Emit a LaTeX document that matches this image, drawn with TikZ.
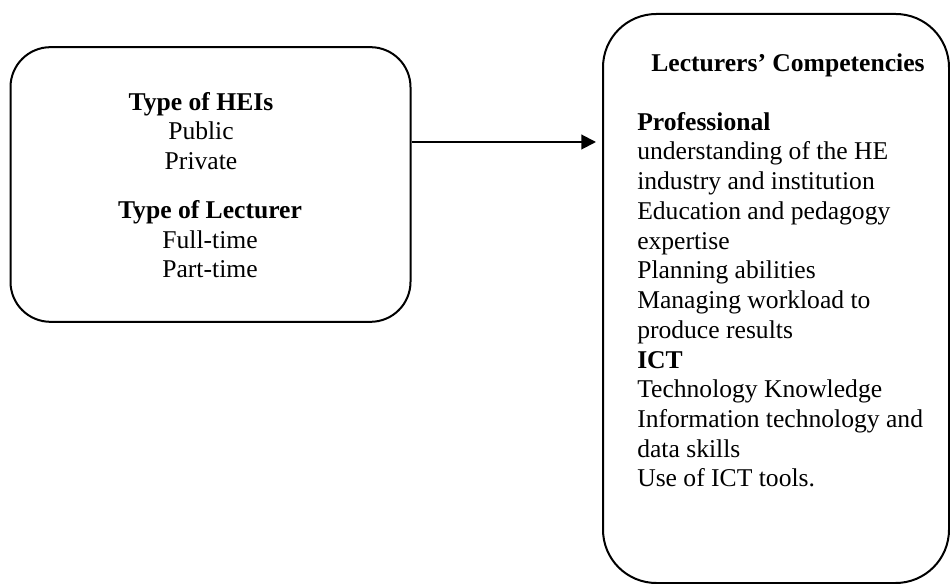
\documentclass[tikz,border=0pt]{standalone}
\usepackage{fontspec}
\setmainfont{Liberation Serif}
\usetikzlibrary{arrows.meta}
\tikzset{
  block/.style={draw, line width=1.5pt, rounded corners=#1, inner sep=0pt},
  txt/.style={inner sep=0pt, font=\fontsize{19.2pt}{22.3pt}\selectfont},
}
\begin{document}
\begin{tikzpicture}[x=0.75pt, y=-0.75pt, >={Triangle[length=11pt,width=11pt]}]
	\useasboundingbox (0,0) rectangle (950,584);
	% the two boxes
	\node[block=30pt, minimum width=300pt, minimum height=206pt] (types) at (210.5,184.5) {};
	\node[block=40pt, minimum width=259.5pt, minimum height=426.75pt] (comp) at (776,298.5) {};
	% left box text (base = last line)
	\node[txt, align=center, anchor=base] (heis) at (201,169.5) {\textbf{Type of HEIs}\\Public\\Private};
	\node[txt, align=center, anchor=base] (lect) at (210,278) {\textbf{Type of Lecturer}\\Full-time\\Part-time};
	% right box text
	\node[txt, anchor=base] (head) at (788,72) {\textbf{Lecturers’ Competencies}};
	\node[txt, align=left, anchor=base west] (list) at (637,487) {\textbf{Professional}\\
		understanding of the HE\\
		industry and institution\\
		Education and pedagogy\\
		expertise\\
		Planning abilities\\
		Managing workload to\\
		produce results\\
		\textbf{ICT}\\
		Technology Knowledge\\
		Information technology and\\
		data skills\\
		Use of ICT tools.};
	% connector
	\coordinate (row) at (500,142);
	\draw[line width=1.5pt, ->, shorten >=4.5pt] (types.east |- row) -- (comp.west |- row);
\end{tikzpicture}
\end{document}
